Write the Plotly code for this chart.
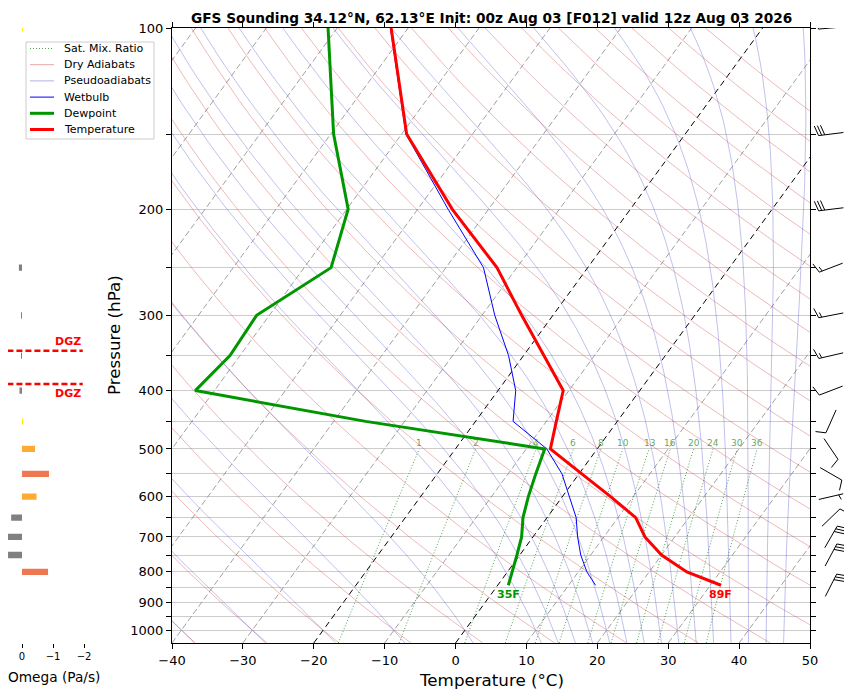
import numpy as np
import plotly.graph_objects as go

# ---- sounding profile (hPa, degC) ----
pres = [842, 800, 750, 700, 650, 600, 550, 500, 450, 400, 350, 300, 250, 200, 150, 100]
temp = [31.5, 25.3, 20.0, 15.8, 12.5, 6.8, 0.4, -6.6, -8.6, -10.8, -17.1, -24.4, -32.8, -45.1, -59.3, -72.4]
dewp = [1.5, 0.7, -0.4, -1.6, -3.4, -4.8, -6.1, -7.4, -35.5, -62.7, -61.4, -61.8, -56.2, -59.8, -69.6, -81.3]
wetb = [13.8, 11.2, 8.6, 6.3, 4.1, 1.0, -2.4, -7.1, -14.7, -17.5, -22.1, -28.2, -34.7, -45.7, -59.4, -72.5]

# ---- winds (kt, deg from) ----
wind_p = [842, 750, 700, 650, 600, 550, 500, 450, 400, 350, 300, 250, 200, 150, 100]
wind_spd = [30, 30, 30, 10, 5, 10, 10, 10, 10, 15, 15, 15, 30, 30, 10]
wind_dir = [27, 28, 30, 46, 77, 120, 146, 204, 249, 257, 259, 249, 263, 263, 265]

# ---- omega (Pa/s) ----
omega_p = [800, 750, 700, 650, 600, 550, 500, 450, 400, 350, 300, 250, 200, 150, 100]
omega = [-0.84, 0.45, 0.48, 0.35, -0.47, -0.87, -0.42, -0.02, 0.08, 0.02, 0.02, 0.1, 0.0, 0.0, -0.01]

mix_ratios = [1, 2, 4, 6, 8, 10, 13, 16, 20, 24, 30, 36]
x_ticks = list(range(-40, 51, 10))
p_ticks = list(range(100, 1001, 50))

title = "GFS Sounding 34.12°N, 62.13°E Init: 00z Aug 03 [F012] valid 12z Aug 03 2026"

# ---- layout geometry (page pixels; the page body adds an 8px margin) ----
W, H = 852, 694
OFF = 8
P_BOT, P_TOP = 1050.0, 100.0
SKEW = 62.0  # degC shift per decade of pressure
FONT = "DejaVu Sans"


def px(x):
    return (x - OFF) / W


def py(y):
    return 1 - (y - OFF) / H


X_DOM = [px(172), px(810)]
Y_DOM = [py(643), py(28)]
PPD = (Y_DOM[1] - Y_DOM[0]) * H / (np.log10(P_BOT) - np.log10(P_TOP))

# omega panel: zero at page x=22, 31 px per Pa/s, negative to the right
OM_ZERO, OM_SCALE = 22.0, 31.0
OM_LEFT, OM_RIGHT = 8.0, 99.5
OM_RANGE = [(OM_ZERO - OM_LEFT) / OM_SCALE, -(OM_RIGHT - OM_ZERO) / OM_SCALE]

# line styles (shared by plot and legend)
ST_MIX = dict(color="rgba(30,130,30,0.75)", width=1, dash="1px,2px")
ST_DRY = dict(color="rgba(205,60,60,0.45)", width=0.8)
ST_MOIST = dict(color="rgba(70,70,200,0.42)", width=0.8)
ST_WB = dict(color="#0000ff", width=1)
ST_TD = dict(color="#009600", width=3)
ST_T = dict(color="#ff0000", width=3)


def skew(t, p):
    return np.asarray(t, float) + SKEW * np.log10(P_BOT / np.asarray(p, float))


fig = go.Figure()
pp = np.linspace(P_BOT, P_TOP, 120)

# isotherms
for t in range(-120, 51, 10):
    if t in (0, -20):
        continue
    fig.add_trace(go.Scatter(x=skew(np.full_like(pp, t), pp), y=pp, mode="lines",
                             line=dict(color="rgba(110,110,110,0.65)", width=1, dash="6px,3px"),
                             hoverinfo="skip"))
for t in (0, -20):
    fig.add_trace(go.Scatter(x=skew(np.full_like(pp, t), pp), y=pp, mode="lines",
                             line=dict(color="black", width=1, dash="6px,4px"),
                             hoverinfo="skip"))

# saturation mixing ratio lines
annotations = []
pm = np.linspace(P_BOT, 500, 40)
for w in mix_ratios:
    e = (w / 1000.0) * pm / (0.622 + w / 1000.0)
    a = np.log(e / 6.112)
    td = 243.5 * a / (17.67 - a)
    fig.add_trace(go.Scatter(x=skew(td, pm), y=pm, mode="lines", line=ST_MIX, hoverinfo="skip"))
    annotations.append(dict(text=str(w), x=float(skew(td[-1], 500)), y=np.log10(500.0),
                            xref="x", yref="y", showarrow=False, xanchor="center",
                            yanchor="bottom", yshift=-1,
                            font=dict(size=9, color="rgba(40,140,40,0.75)")))

# dry adiabats
for t0 in range(-40, 201, 10):
    td = (t0 + 273.15) * (pp / 1000.0) ** 0.2857 - 273.15
    fig.add_trace(go.Scatter(x=skew(td, pp), y=pp, mode="lines", line=ST_DRY, hoverinfo="skip"))


# pseudoadiabats
def moist_profile(t0c, plev):
    Rd, Cp, Lv, eps = 287.04, 1005.7, 2.501e6, 0.622

    def f(p, t):
        es = 6.112 * np.exp(17.67 * (t - 273.15) / (t - 29.65))
        rs = eps * es / (p - es)
        return (Rd * t + Lv * rs) / (p * (Cp + Lv * Lv * rs * eps / (Rd * t * t)))

    out = [t0c + 273.15]
    for k in range(1, len(plev)):
        p, t, h = plev[k - 1], out[-1], plev[k] - plev[k - 1]
        k1 = f(p, t)
        k2 = f(p + h / 2, t + h / 2 * k1)
        k3 = f(p + h / 2, t + h / 2 * k2)
        k4 = f(p + h, t + h * k3)
        out.append(t + h / 6 * (k1 + 2 * k2 + 2 * k3 + k4))
    return np.array(out) - 273.15


moist_t0 = list(range(-50, 11, 10)) + list(np.arange(12.5, 45.1, 2.5))
p_up = np.linspace(1000, P_TOP, 181)
p_dn = np.linspace(1000, P_BOT, 11)
for t0 in moist_t0:
    tu = moist_profile(t0, p_up)
    tdn = moist_profile(t0, p_dn)
    pl = np.concatenate([p_dn[::-1], p_up[1:]])
    tl = np.concatenate([tdn[::-1], tu[1:]])
    fig.add_trace(go.Scatter(x=skew(tl, pl), y=pl, mode="lines", line=ST_MOIST, hoverinfo="skip"))

# profiles
fig.add_trace(go.Scatter(x=skew(wetb, pres), y=pres, mode="lines", name="Wetbulb", line=ST_WB))
fig.add_trace(go.Scatter(x=skew(dewp, pres), y=pres, mode="lines", name="Dewpoint", line=ST_TD))
fig.add_trace(go.Scatter(x=skew(temp, pres), y=pres, mode="lines", name="Temperature", line=ST_T))

# surface labels
for val, col in ((dewp[0], "#009600"), (temp[0], "#ff0000")):
    annotations.append(dict(text="<b>%dF</b>" % round(val * 9 / 5 + 32),
                            x=float(skew(val, pres[0])), y=np.log10(pres[0]),
                            xref="x", yref="y", showarrow=False, xanchor="center",
                            yanchor="top", yshift=-1, font=dict(size=11, color=col)))


# ---- omega panel ----
def omega_color(v):
    if v >= 0:
        return "#808080"
    if v > -0.1:
        return "#ffee00"
    if v > -0.5:
        return "#ffab33"
    return "#ef7752"


fig.add_trace(go.Bar(x=omega, y=np.log10(omega_p), orientation="h", width=0.0105,
                     marker=dict(color=[omega_color(v) for v in omega], line=dict(width=0)),
                     xaxis="x2", yaxis="y2", hoverinfo="skip"))

# dendritic growth zone (-12 to -18 C) from the temperature profile
t_arr = np.array(temp[::-1])
lp_arr = np.log10(np.array(pres[::-1], float))
dgz = [np.interp(-18.0, t_arr, lp_arr), np.interp(-12.0, t_arr, lp_arr)]
for j, lp in enumerate(dgz):
    fig.add_trace(go.Scatter(x=[0.47, -1.96], y=[lp, lp], mode="lines",
                             line=dict(color="#ff0000", width=2.5, dash="6px,3px"),
                             xaxis="x2", yaxis="y2", hoverinfo="skip"))
    annotations.append(dict(text="<b>DGZ</b>", x=-1.96, y=lp, xref="x2", yref="y2",
                            showarrow=False, xanchor="right",
                            yanchor="bottom" if j == 0 else "top",
                            yshift=1 if j == 0 else -1,
                            font=dict(size=11, color="#ff0000")))

# ---- wind barbs ----
BL, BH, BW, BS = 25.0, 10.0, 6.2, 3.1
CX = 831.0
bx, by = [], []
for p, spd, wd in zip(wind_p, wind_spd, wind_dir):
    cy = np.log10(p)
    d = np.deg2rad(wd)
    ex, ey = np.sin(d), -np.cos(d)
    sx, sy = -ey, ex
    half = BL / 2
    segs = [((-ex * half, -ey * half), (ex * half, ey * half))]
    s5 = int(round(spd / 5.0)) * 5
    n_full, rem = divmod(s5, 10)
    n_half = rem // 5
    off = half
    for _ in range(n_full):
        segs.append(((ex * off, ey * off),
                     (ex * off + sx * BH + ex * BW / 2, ey * off + sy * BH + ey * BW / 2)))
        off -= BS
    if n_half:
        if off == half:
            off -= 1.5 * BS
        segs.append(((ex * off, ey * off),
                     (ex * off + sx * BH / 2 + ex * BW / 4, ey * off + sy * BH / 2 + ey * BW / 4)))
    for a, b in segs:
        bx += [CX + a[0], CX + b[0], None]
        by += [cy + a[1] / PPD, cy + b[1] / PPD, None]

fig.add_trace(go.Scatter(x=bx, y=by, mode="lines", line=dict(color="black", width=1),
                         xaxis="x3", yaxis="y3", hoverinfo="skip"))

# ---- hand-built legend (matplotlib-like spacing) ----
legend_items = [("Sat. Mix. Ratio", ST_MIX), ("Dry Adiabats", ST_DRY), ("Pseudoadiabats", ST_MOIST),
                ("Wetbulb", ST_WB), ("Dewpoint", ST_TD), ("Temperature", ST_T)]
shapes = [dict(type="rect", xref="paper", yref="paper", x0=px(26), x1=px(154),
               y0=py(139), y1=py(42), line=dict(color="#cccccc", width=1),
               fillcolor="rgba(255,255,255,0.85)", layer="above")]
for k, (lab, st) in enumerate(legend_items):
    yy = py(48.5 + 16.2 * k)
    ln = dict(color=st["color"], width=max(st["width"], 1))
    if "dash" in st:
        ln["dash"] = st["dash"]
    shapes.append(dict(type="line", xref="paper", yref="paper", x0=px(30), x1=px(54),
                       y0=yy, y1=yy, line=ln, layer="above"))
    annotations.append(dict(text=lab, x=px(62), y=yy, xref="paper", yref="paper", showarrow=False,
                            font=dict(size=11), xanchor="left", yanchor="middle"))

annotations += [
    dict(text="<b>" + title + "</b>", x=px(491), y=py(8), xref="paper", yref="paper",
         showarrow=False, font=dict(size=13.7), xanchor="center", yanchor="top"),
    dict(text="Temperature (°C)", x=px(491), y=py(680), xref="paper", yref="paper",
         showarrow=False, font=dict(size=16.7), xanchor="center", yanchor="middle"),
    dict(text="Pressure (hPa)", x=px(114), y=py(335), xref="paper", yref="paper",
         showarrow=False, font=dict(size=16.7), textangle=-90, xanchor="center", yanchor="middle"),
    dict(text="Omega (Pa/s)", x=px(54), y=py(677), xref="paper", yref="paper",
         showarrow=False, font=dict(size=13.7), xanchor="center", yanchor="middle"),
]

# ---- layout ----
y_range = [np.log10(P_BOT), np.log10(P_TOP)]
fig.update_layout(
    template="none",
    width=W, height=H,
    margin=dict(l=0, r=0, t=0, b=0, pad=0, autoexpand=False),
    paper_bgcolor="white", plot_bgcolor="white",
    font=dict(family=FONT, color="black"),
    showlegend=False,
    xaxis=dict(domain=X_DOM, range=[-40, 50], anchor="y", automargin=False,
               tickvals=x_ticks, ticktext=[str(v).replace("-", "\u2212") for v in x_ticks],
               ticks="outside", ticklen=5, tickcolor="black", showline=True, linecolor="black",
               linewidth=1, mirror="ticks", showgrid=False, zeroline=False,
               tickfont=dict(size=13)),
    yaxis=dict(domain=Y_DOM, type="log", range=y_range, anchor="x", automargin=False,
               tickvals=p_ticks, ticktext=[str(v) if v % 100 == 0 else "" for v in p_ticks],
               ticks="outside", ticklen=5, tickcolor="black", showline=True, linecolor="black",
               linewidth=1, mirror="ticks", showgrid=True, gridcolor="#cccccc", gridwidth=1,
               zeroline=False, tickfont=dict(size=13)),
    xaxis2=dict(domain=[px(OM_LEFT), px(OM_RIGHT)], range=OM_RANGE, anchor="y2", automargin=False,
                tickvals=[0, -1, -2], ticktext=["0", "\u22121", "\u22122"],
                ticks="outside", ticklen=4, tickcolor="black", showline=False,
                showgrid=False, zeroline=False, tickfont=dict(size=10)),
    yaxis2=dict(domain=Y_DOM, range=y_range, anchor="x2", visible=False, automargin=False),
    xaxis3=dict(domain=[px(810), px(852)], range=[810, 852], anchor="y3", visible=False,
                automargin=False),
    yaxis3=dict(domain=Y_DOM, range=y_range, anchor="x3", visible=False, automargin=False),
    shapes=shapes,
    annotations=annotations,
)

fig.write_html("out.html")
